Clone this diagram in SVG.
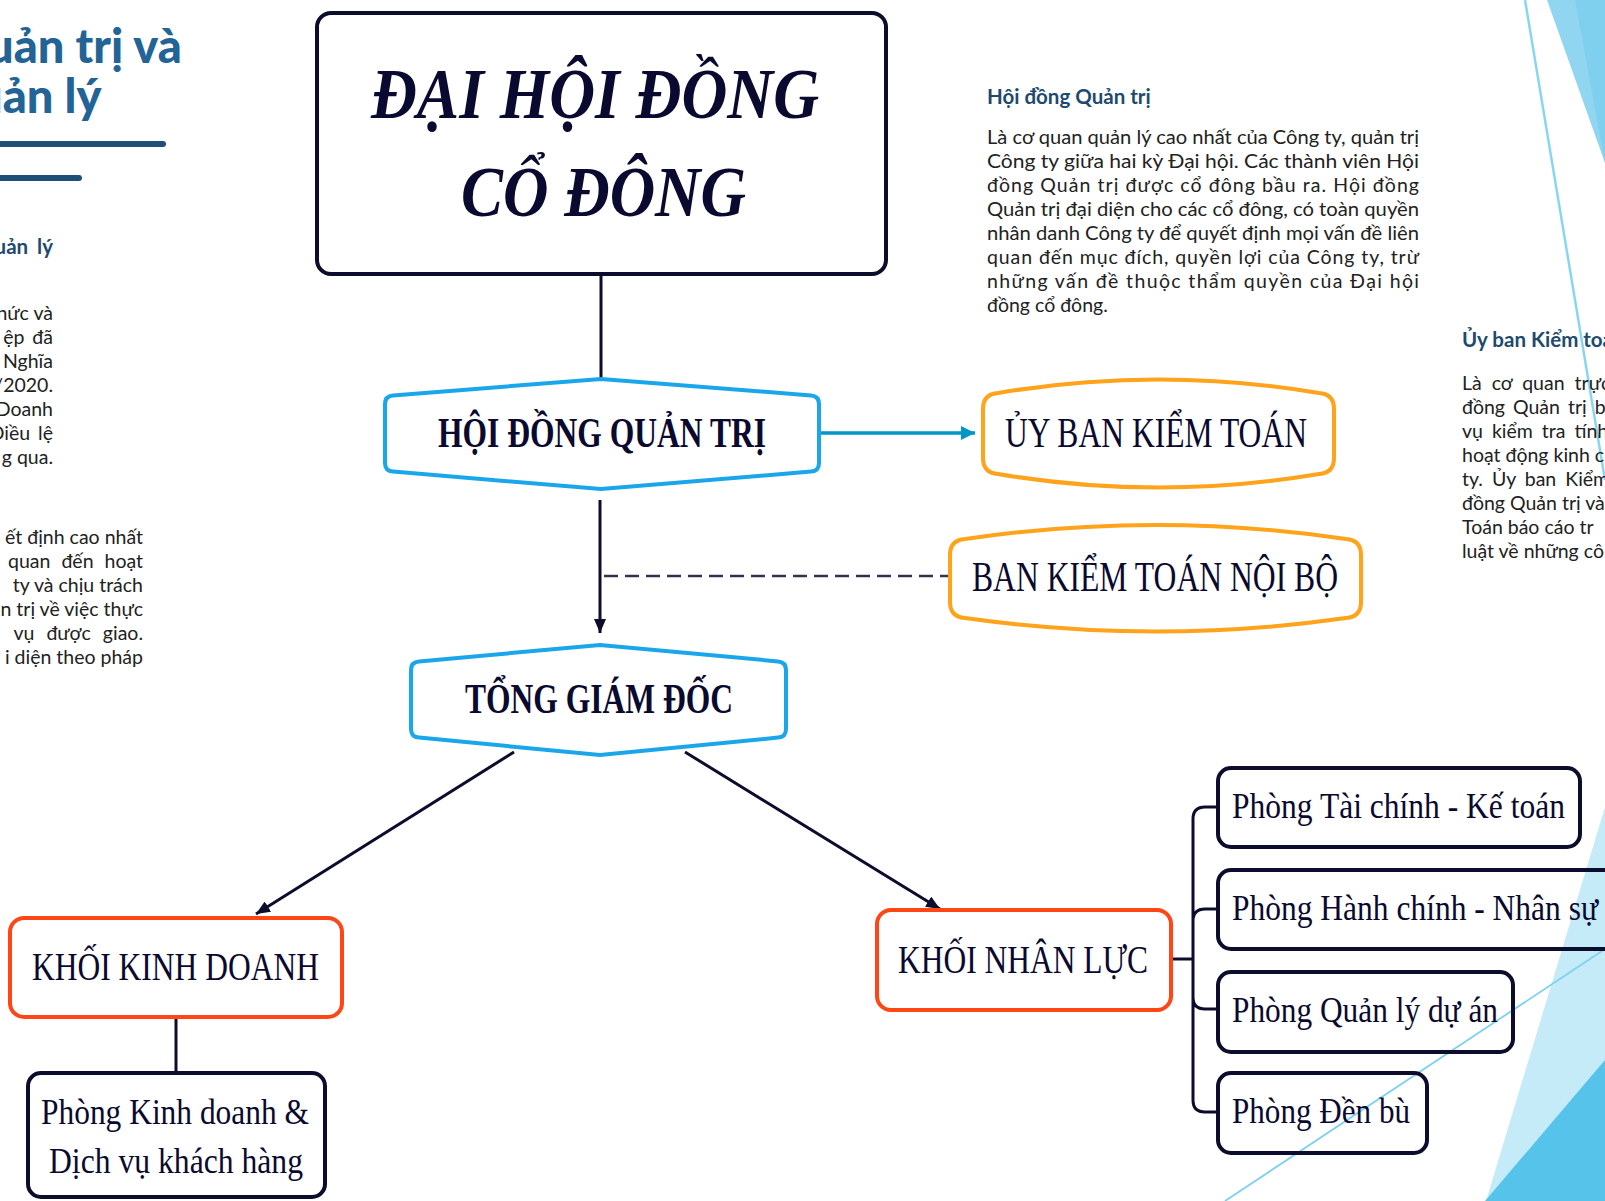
<svg xmlns="http://www.w3.org/2000/svg" width="1605" height="1201" viewBox="0 0 1605 1201">
<defs>
<style>
.nav{fill:none;stroke:#0c0c2c;stroke-width:4}
.blue{fill:none;stroke:#1aa6ea;stroke-width:4}
.orange{fill:none;stroke:#ffa31a;stroke-width:4}
.red{fill:none;stroke:#ff4614;stroke-width:4}
.conn{fill:none;stroke:#0c0c2c;stroke-width:3}
.lbl{font-family:"Liberation Serif","Times New Roman",serif;fill:#0a0a30}
.b{font-weight:700}
.body{font-family:Lato,"Noto Sans",sans-serif;font-size:19.5px;fill:#222}
.hd{font-family:Lato,"Noto Sans",sans-serif;font-weight:700;font-size:20.5px;fill:#1d4a6e}
.title{font-family:Lato,"Noto Sans",sans-serif;font-weight:900;font-size:47px;fill:#236496}
</style>
<marker id="arr" viewBox="0 0 14 12" refX="14" refY="6" markerWidth="14" markerHeight="12" markerUnits="userSpaceOnUse" orient="auto"><path d="M0,0 L14,6 L0,12 z" fill="#0c0c2c"/></marker>
<marker id="arrb" viewBox="0 0 14 14" refX="14" refY="7" markerWidth="14" markerHeight="14" markerUnits="userSpaceOnUse" orient="auto"><path d="M0,0 L14,7 L0,14 z" fill="#0096c8"/></marker>
</defs>
<rect width="1605" height="1201" fill="#fff"/>
<g id="decor">
<polygon points="1547,0 1605,0 1605,163" fill="#90d6f1"/>
<polygon points="1575,0 1605,0 1605,163" fill="#7fcfee"/>
<polygon points="1605,807 1486,1201 1605,1201" fill="#c5eaf8"/>
<polygon points="1605,1060 1485,1201 1605,1201" fill="#55c3ea"/>
<line x1="1525" y1="0" x2="1605" y2="480" stroke="#8ad6f2" stroke-width="2.5"/>
<line x1="1225" y1="1201" x2="1605" y2="949" stroke="#7fd0ef" stroke-width="1.8"/>
</g>
<g id="side-left">
<text class="title" x="-13" y="63">uản trị và</text>
<text class="title" x="-24" y="113">uản lý</text>
<line x1="-5" y1="144" x2="163" y2="144" stroke="#1f4e79" stroke-width="6" stroke-linecap="round"/>
<line x1="-5" y1="178" x2="79" y2="178" stroke="#1f4e79" stroke-width="6" stroke-linecap="round"/>
<text class="hd" x="53" y="254" text-anchor="end" word-spacing="4">uản lý</text>
<g class="body" text-anchor="end">
<text x="53" y="320">hức và</text>
<text x="53" y="344" word-spacing="3">ệp đã</text>
<text x="53" y="368">Nghĩa</text>
<text x="53" y="392">/2020.</text>
<text x="53" y="416">Doanh</text>
<text x="53" y="440" word-spacing="3">Điều lệ</text>
<text x="53" y="464">g qua.</text>
<text x="143" y="544">ết định cao nhất</text>
<text x="143" y="568" word-spacing="6">quan đến hoạt</text>
<text x="143" y="592">ty và chịu trách</text>
<text x="143" y="616">n trị về việc thực</text>
<text x="143" y="640" word-spacing="7">vụ được giao.</text>
<text x="143" y="664">i diện theo pháp</text>
</g>
</g>
<g id="side-hdqt">
<text class="hd" x="987" y="104">Hội đồng Quản trị</text>
<g class="body">
<text x="987" y="144" textLength="432" lengthAdjust="spacingAndGlyphs">Là cơ quan quản lý cao nhất của Công ty, quản trị</text>
<text x="987" y="168" textLength="432" lengthAdjust="spacingAndGlyphs">Công ty giữa hai kỳ Đại hội. Các thành viên Hội</text>
<text x="987" y="192" textLength="432" lengthAdjust="spacing">đồng Quản trị được cổ đông bầu ra. Hội đồng</text>
<text x="987" y="216" textLength="432" lengthAdjust="spacingAndGlyphs">Quản trị đại diện cho các cổ đông, có toàn quyền</text>
<text x="987" y="240" textLength="432" lengthAdjust="spacingAndGlyphs">nhân danh Công ty để quyết định mọi vấn đề liên</text>
<text x="987" y="264" textLength="432" lengthAdjust="spacing">quan đến mục đích, quyền lợi của Công ty, trừ</text>
<text x="987" y="288" textLength="432" lengthAdjust="spacing">những vấn đề thuộc thẩm quyền của Đại hội</text>
<text x="987" y="312">đồng cổ đông.</text>
</g>
</g>
<g id="side-ubkt">
<text class="hd" x="1462" y="347">Ủy ban Kiểm toá</text>
<g class="body">
<text x="1462" y="390" word-spacing="5">Là cơ quan trực</text>
<text x="1462" y="414" word-spacing="3">đồng Quản trị ba</text>
<text x="1462" y="438" word-spacing="4">vụ kiểm tra tính</text>
<text x="1462" y="462">hoạt động kinh c</text>
<text x="1462" y="486" word-spacing="4">ty. Ủy ban Kiểm</text>
<text x="1462" y="510">đồng Quản trị và</text>
<text x="1462" y="534">Toán báo cáo tr</text>
<text x="1462" y="558">luật về những cô</text>
</g>
</g>
<g id="connectors">
<line class="conn" x1="601" y1="274" x2="601" y2="379"/>
<line x1="821" y1="433" x2="975" y2="433" stroke="#0096c8" stroke-width="3.5" marker-end="url(#arrb)"/>
<line class="conn" x1="600" y1="500" x2="600" y2="633" stroke-width="2.5" marker-end="url(#arr)"/>
<line x1="604" y1="576" x2="950" y2="576" stroke="#33334f" stroke-width="2.5" stroke-dasharray="14 7"/>
<line class="conn" x1="514" y1="752" x2="256" y2="914" marker-end="url(#arr)"/>
<line class="conn" x1="685" y1="752" x2="940" y2="909" marker-end="url(#arr)"/>
<line class="conn" x1="176" y1="1017" x2="176" y2="1073"/>
<path class="conn" stroke-width="3.5" d="M1172,959 H1193 M1193,959 V819 Q1193,807 1205,807 H1218 M1193,959 V921 Q1193,909 1205,909 H1218 M1193,959 V997 Q1193,1009 1205,1009 H1218 M1193,959 V1100 Q1193,1112 1205,1112 H1218"/>
</g>
<g id="n-dhdcd">
<rect class="nav" x="317" y="13" width="569" height="261" rx="14"/>
<text class="lbl b" x="371" y="118" font-size="72" font-style="italic" textLength="448" lengthAdjust="spacingAndGlyphs">ĐẠI HỘI ĐỒNG</text>
<text class="lbl b" x="461" y="216" font-size="72" font-style="italic" textLength="285" lengthAdjust="spacingAndGlyphs">CỔ ĐÔNG</text>
</g>
<g id="n-hdqt">
<path class="blue" d="M393,395.4 L601,379 L811,395.4 Q819,396 819,404 L819,463 Q819,471 811,471.6 L601,489 L393,471.6 Q385,471 385,463 L385,404 Q385,396 393,395.4 Z"/>
<text class="lbl b" x="438" y="447" font-size="42" textLength="328" lengthAdjust="spacingAndGlyphs">HỘI ĐỒNG QUẢN TRỊ</text>
</g>
<g id="n-ubkt">
<path class="orange" d="M983,409 Q983,394 998,393 Q1158,366 1319,393 Q1334,394 1334,409 L1334,458 Q1334,473 1319,474 Q1158,501 998,474 Q983,473 983,458 Z"/>
<text class="lbl" x="1005" y="447" font-size="42" textLength="302" lengthAdjust="spacingAndGlyphs">ỦY BAN KIỂM TOÁN</text>
</g>
<g id="n-bktnb">
<path class="orange" d="M950,555 Q950,540 965,539 Q1156,511 1346,539 Q1361,540 1361,555 L1361,602 Q1361,617 1346,618 Q1156,645 965,618 Q950,617 950,602 Z"/>
<text class="lbl" x="972" y="591" font-size="42" textLength="366" lengthAdjust="spacingAndGlyphs">BAN KIỂM TOÁN NỘI BỘ</text>
</g>
<g id="n-tgd">
<path class="blue" d="M419,661.4 L600,645 L778,661.4 Q786,662 786,670 L786,729 Q786,737 778,737.6 L600,755 L419,737.6 Q411,737 411,729 L411,670 Q411,662 419,661.4 Z"/>
<text class="lbl b" x="465" y="713" font-size="43" textLength="268" lengthAdjust="spacingAndGlyphs">TỔNG GIÁM ĐỐC</text>
</g>
<g id="n-kkd">
<rect class="red" x="10" y="918" width="332" height="99" rx="14"/>
<text class="lbl" x="32" y="980" font-size="40" textLength="287" lengthAdjust="spacingAndGlyphs">KHỐI KINH DOANH</text>
</g>
<g id="n-pkd">
<rect class="nav" x="28" y="1073" width="297" height="124" rx="13"/>
<text class="lbl" x="41" y="1124" font-size="36" textLength="268" lengthAdjust="spacingAndGlyphs">Phòng Kinh doanh &amp;</text>
<text class="lbl" x="49" y="1173" font-size="36" textLength="254" lengthAdjust="spacingAndGlyphs">Dịch vụ khách hàng</text>
</g>
<g id="n-knl">
<rect class="red" x="877" y="910" width="294" height="100" rx="14"/>
<text class="lbl" x="898" y="973" font-size="40" textLength="250" lengthAdjust="spacingAndGlyphs">KHỐI NHÂN LỰC</text>
</g>
<g id="n-ptckt">
<rect class="nav" x="1218" y="768" width="362" height="79" rx="13"/>
<text class="lbl" x="1232" y="818" font-size="35" textLength="333" lengthAdjust="spacingAndGlyphs">Phòng Tài chính - Kế toán</text>
</g>
<g id="n-phcns">
<rect class="nav" x="1218" y="870" width="402" height="79" rx="13"/>
<text class="lbl" x="1232" y="920" font-size="35" textLength="366" lengthAdjust="spacingAndGlyphs">Phòng Hành chính - Nhân sự</text>
</g>
<g id="n-pqlda">
<rect class="nav" x="1218" y="972" width="295" height="80" rx="13"/>
<text class="lbl" x="1232" y="1022" font-size="35" textLength="266" lengthAdjust="spacingAndGlyphs">Phòng Quản lý dự án</text>
</g>
<g id="n-pdb">
<rect class="nav" x="1218" y="1073" width="209" height="80" rx="13"/>
<text class="lbl" x="1232" y="1123" font-size="35" textLength="178" lengthAdjust="spacingAndGlyphs">Phòng Đền bù</text>
</g>
</svg>
